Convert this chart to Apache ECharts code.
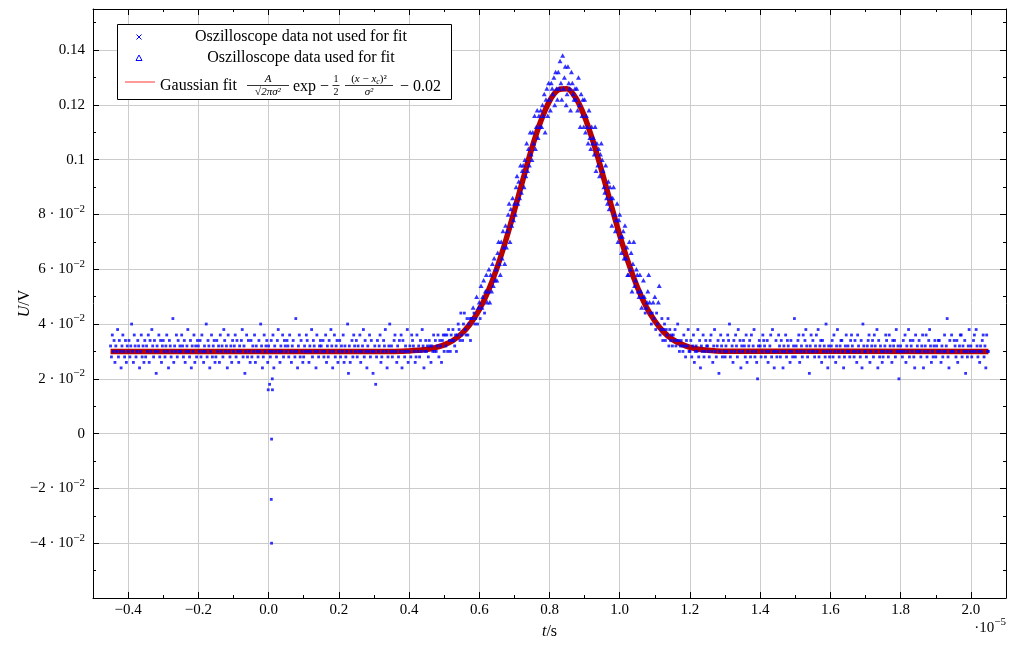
<!DOCTYPE html>
<html><head><meta charset="utf-8">
<script src="https://cdn.jsdelivr.net/npm/echarts@6/dist/echarts.min.js"></script>
<style>html,body{margin:0;padding:0;background:#fff}#c{width:1009px;height:645px}</style>
</head><body><div id="c"></div>
<script>
// ---- data (time in units of 1e-5 s, voltage in mV) ----
const sampleStart = -0.45;   // first oscilloscope sample
const sampleStep = 0.0025;   // sample spacing

const leftBaseMv = [
32,28,36,30,34,26,32,30,38,28,34,30,24,32,36,30,28,34,26,32,
30,34,28,32,40,30,26,36,32,28,30,34,32,24,30,36,28,32,26,34,
28,32,30,36,26,34,30,38,32,28,34,30,22,32,30,36,28,34,26,32,
34,30,28,32,36,30,24,34,32,28,30,42,26,32,30,36,28,34,30,32,
30,36,32,28,34,26,30,32,38,30,28,34,24,32,30,36,26,32,28,34,
32,30,34,28,36,30,26,32,30,40,28,34,32,24,30,36,28,32,34,26,
28,34,30,32,26,36,30,32,28,38,34,30,32,24,36,30,28,32,26,34,
30,32,36,28,34,30,26,32,30,34,38,28,32,22,30,36,28,34,30,26,
34,28,32,30,36,26,32,30,28,34,30,40,32,24,28,36,30,32,34,26,
32,30,28,34,30,36,24,32,30,28,34,38,30,26,32,30,36,28,34,32,
30,34,32,28,36,30,26,32,34,30,28,42,30,24,32,36,28,34,30,26,
28,32,30,36,34,30,26,32,30,38,28,34,32,30,24,36,30,28,32,34,
32,30,34,28,30,36,26,32,28,34,30,38,32,24,30,36,28,32,34,26,
30,34,28,32,30,36,26,32,28,30,40,22,32,26,30,34,28,36,32,30,
34,28,32,30,36,26,30,32,38,28,34,30,24,32,30,36,28,34,30,22,
30,32,18,28,34,30,32,36,26,28,30,34,32,38,30,24,28,32,40,30,
32,28,30,34,36,30,26,32,28,34,30,36,24,34,30,28,32,30,38,26,
30,32,28,36,34,32,30,26,28,36,30,32,28,34,30,38,32,24,30,34
];

const peakMv = [
30,32,28,34,32,26,32,30,36,30,
34,30,32,36,28,34,32,26,34,36,
30,36,32,36,30,38,34,30,36,34,
38,34,32,36,30,36,40,38,34,44,
36,34,40,44,38,36,42,36,40,42,
34,42,42,46,44,40,42,50,40,46,
48,42,54,46,50,56,44,52,58,48,
52,60,48,58,52,62,54,64,56,60,
56,66,70,62,58,70,64,74,68,62,
76,68,74,80,84,70,82,76,86,78,
84,80,90,94,84,92,86,98,88,96,
98,90,100,94,106,96,104,98,110,102,
100,110,106,116,104,112,118,108,116,112,
118,112,120,116,124,110,122,126,116,128,
122,118,128,126,124,130,120,132,126,122,
132,126,136,128,122,138,126,130,134,120,
124,134,128,126,118,132,128,124,122,126,
122,126,118,130,120,112,124,116,122,112,
122,110,116,112,106,118,108,104,112,106,
108,102,112,96,106,98,104,94,102,106,
100,96,90,88,98,86,84,92,82,90,
86,76,86,90,80,74,78,84,70,78,
80,72,66,72,74,64,76,64,68,58,
58,70,60,66,52,62,70,54,56,60,
58,52,50,58,52,46,50,56,50,44,
46,48,52,58,48,44,40,44,48,42,
50,38,44,40,48,54,36,38,42,34,
38,40,34,38,36,42,32,38,34,36,
32,36,34,38,32,34,40,34,30,32,
34,32,30,36,32,28,34,32,38,30
];

const rightBaseMv = [
30,34,28,32,36,26,30,32,30,38,28,34,24,32,30,36,28,30,34,32,
32,30,28,34,36,30,26,32,38,30,28,32,34,22,30,36,32,28,34,30,
28,32,30,36,34,40,28,30,32,26,34,30,36,32,28,38,30,34,24,32,
30,34,32,28,36,26,30,32,34,28,36,30,32,38,28,30,26,20,32,34,
32,28,30,36,34,32,28,30,34,26,30,32,36,28,38,30,24,30,34,28,
30,36,32,28,34,30,24,32,30,36,28,34,32,30,26,34,30,28,32,42,
28,32,30,34,36,26,30,32,28,36,30,34,38,32,28,30,22,32,36,30,
34,30,28,32,36,30,38,28,32,34,26,34,30,32,28,40,30,24,32,28,
30,32,34,28,36,30,26,32,38,30,28,32,34,34,30,24,28,32,36,30,
32,30,28,34,36,32,30,28,34,30,26,36,32,30,28,34,24,40,32,30,
30,28,32,34,36,26,30,32,34,28,36,32,30,38,24,34,28,32,30,26,
28,30,32,36,34,30,28,36,32,30,26,34,32,34,28,38,30,32,20,30,
32,30,28,34,30,36,26,32,30,38,28,34,32,30,34,28,24,36,30,32,
30,34,30,28,32,36,24,30,32,36,28,30,34,38,32,26,30,28,32,34,
28,32,30,34,34,30,26,32,28,30,36,30,32,42,28,24,34,30,36,30,
30,34,32,28,34,26,30,32,36,36,28,32,30,34,22,30,28,32,38,30,
32,28,30,34,36,30,38,32,28,30,26,32,30,34,36,28,32,24,36,30,
30
];

// trigger glitch near t = 0
const glitchT  = [-0.001, 0.003, 0.0105, 0.011, 0.0085, 0.0077, 0.0085];
const glitchMv = [16, 18, 20, 16, -2, -24, -40];

// fitted curve
const fitT  = [-0.45, 0.35, 0.40, 0.425, 0.45, 0.475, 0.50, 0.525, 0.55, 0.575, 0.60, 0.625, 0.65, 0.675, 0.70, 0.725, 0.75, 0.775, 0.80, 0.825, 0.85, 0.875, 0.90, 0.925, 0.95, 0.975, 1.00, 1.025, 1.05, 1.075, 1.10, 1.125, 1.15, 1.175, 1.20, 1.225, 1.25, 1.275, 1.30, 2.05];
const fitMv = [30.0, 30.0, 30.2, 30.4, 30.7, 31.4, 32.4, 34.0, 36.5, 40.2, 45.2, 51.9, 60.3, 70.3, 81.4, 93.0, 104.3, 114.0, 121.4, 125.5, 125.9, 122.5, 115.7, 106.3, 95.3, 83.7, 72.4, 62.2, 53.5, 46.4, 41.1, 37.1, 34.4, 32.7, 31.5, 30.8, 30.4, 30.2, 30.1, 30.0];

const usedForFitAboveMv = 45; // peak samples above this level are the ones used for the fit

// axis ticks and labels
const xMajorTicks = [-0.4, -0.2, 0, 0.2, 0.4, 0.6, 0.8, 1.0, 1.2, 1.4, 1.6, 1.8, 2.0];
const xTickLabels = ['−0.4', '−0.2', '0.0', '0.2', '0.4', '0.6', '0.8', '1.0', '1.2', '1.4', '1.6', '1.8', '2.0'];
const xMinorTicks = [-0.3, -0.1, 0.1, 0.3, 0.5, 0.7, 0.9, 1.1, 1.3, 1.5, 1.7, 1.9];
const yMajorTicks = [-0.04, -0.02, 0, 0.02, 0.04, 0.06, 0.08, 0.1, 0.12, 0.14];
const yTickLabels = ['−4 · 10^−2', '−2 · 10^−2', '0', '2 · 10^−2', '4 · 10^−2', '6 · 10^−2', '8 · 10^−2', '0.1', '0.12', '0.14'];
const yMinorTicks = [-0.05, -0.03, -0.01, 0.01, 0.03, 0.05, 0.07, 0.09, 0.11, 0.13, 0.15];

// ---- build series data ----
const notUsed = [], used = [];
const allMv = leftBaseMv.concat(peakMv, rightBaseMv);
const peakStart = leftBaseMv.length, peakEnd = leftBaseMv.length + peakMv.length;
allMv.forEach((mv, i) => {
  const p = [sampleStart + i * sampleStep, mv / 1000];
  if (i >= peakStart && i < peakEnd && mv > usedForFitAboveMv) used.push(p); else notUsed.push(p);
});
glitchT.forEach((t, i) => notUsed.push([t, glitchMv[i] / 1000]));
const fitData = fitT.map((t, i) => [t, fitMv[i] / 1000]);

const FONT = 'Liberation Serif';
function findLabel(v, ticks, labels) {
  for (let i = 0; i < ticks.length; i++) if (Math.abs(ticks[i] - v) < 1e-9) return labels[i];
  return '';
}
function richLabel(s) {
  if (!s) return '';
  const k = s.indexOf('^');
  return k < 0 ? '{b|' + s + '}' : '{b|' + s.slice(0, k) + '}{s|' + s.slice(k + 1) + '}';
}
const rich = {
  b: { fontFamily: FONT, fontSize: 15, color: '#000', lineHeight: 22 },
  s: { fontFamily: FONT, fontSize: 11, color: '#000', lineHeight: 11, verticalAlign: 'top' }
};
const nameStyle = { fontFamily: FONT, fontSize: 16, color: '#000', rich: { i: { fontFamily: FONT, fontSize: 16, fontStyle: 'italic', color: '#000' } } };

function xAx(pos, ticks, len, main) {
  const primary = pos === 'bottom' && main;
  return {
    type: 'value', min: -0.5, max: 2.1, position: pos,
    axisLine: { show: main, onZero: false, lineStyle: { color: '#000', width: 1 } },
    axisTick: { show: true, inside: true, length: len, customValues: ticks, lineStyle: { color: '#000', width: 1 } },
    axisLabel: primary ? {
      show: true, customValues: xMajorTicks, margin: 5, color: '#000', fontFamily: FONT, fontSize: 15,
      formatter: v => findLabel(v, xMajorTicks, xTickLabels)
    } : { show: false },
    splitLine: primary ? { show: true, lineStyle: { color: '#cccccc', width: 1 } } : { show: false },
    minorTick: { show: false }, minorSplitLine: { show: false },
    name: primary ? '{i|t}/s' : '', nameLocation: 'middle', nameGap: 26, nameMoveOverlap: false, nameTextStyle: nameStyle
  };
}
function yAx(pos, ticks, len, main) {
  const primary = pos === 'left' && main;
  return {
    type: 'value', min: -0.06, max: 0.155, position: pos,
    axisLine: { show: main, onZero: false, lineStyle: { color: '#000', width: 1 } },
    axisTick: { show: true, inside: true, length: len, customValues: ticks, lineStyle: { color: '#000', width: 1 } },
    axisLabel: primary ? {
      show: true, customValues: yMajorTicks, margin: 8, color: '#000',
      formatter: v => richLabel(findLabel(v, yMajorTicks, yTickLabels)), rich: rich
    } : { show: false },
    splitLine: primary ? { show: true, lineStyle: { color: '#cccccc', width: 1 } } : { show: false },
    minorTick: { show: false }, minorSplitLine: { show: false },
    name: primary ? '{i|U}/V' : '', nameLocation: 'middle', nameGap: 60, nameMoveOverlap: false, nameTextStyle: nameStyle
  };
}

const chart = echarts.init(document.getElementById('c'), null, { renderer: 'canvas' });
const blue = '#0000ff';
const txt = (x, y, text, size, extra) => Object.assign({ type: 'text', x: x, y: y, z: 11,
  style: Object.assign({ text: text, fontFamily: FONT, fontSize: size, fill: '#000', align: 'center', verticalAlign: 'middle' }, extra || {}) });
const ln = (x1, y1, x2, y2, color, w) => ({ type: 'line', z: 11, shape: { x1: x1, y1: y1, x2: x2, y2: y2 }, style: { stroke: color, lineWidth: w } });

chart.setOption({
  animation: false,
  backgroundColor: '#fff',
  grid: { left: 93, right: 3, top: 9, bottom: 47, containLabel: false, outerBoundsMode: 'none' },
  xAxis: [xAx('bottom', xMajorTicks, 6, true), xAx('bottom', xMinorTicks, 3, false), xAx('top', xMajorTicks, 6, true), xAx('top', xMinorTicks, 3, false)],
  yAxis: [yAx('left', yMajorTicks, 6, true), yAx('left', yMinorTicks, 3, false), yAx('right', yMajorTicks, 6, true), yAx('right', yMinorTicks, 3, false)],
  series: [
    { name: 'fit', type: 'line', xAxisIndex: 0, yAxisIndex: 0, data: fitData, showSymbol: false, smooth: 0.3,
      lineStyle: { color: '#bb0000', width: 5.5 }, z: 2, silent: true },
    { name: 'notUsed', type: 'scatter', xAxisIndex: 0, yAxisIndex: 0, data: notUsed, symbol: 'rect', symbolSize: 2.8,
      itemStyle: { color: blue }, z: 3, silent: true },
    { name: 'used', type: 'scatter', xAxisIndex: 0, yAxisIndex: 0, data: used, symbol: 'triangle', symbolSize: [5, 4.5],
      itemStyle: { color: blue }, z: 3, silent: true }
  ],
  graphic: [
    { type: 'text', x: 1006, y: 628, style: { text: '{b|·10}{s|−5}', rich: rich, align: 'right', verticalAlign: 'middle' } },
    { type: 'rect', z: 10, shape: { x: 117.5, y: 24.5, width: 334, height: 75 }, style: { fill: '#fff', stroke: '#000', lineWidth: 1 } },
    ln(136.5, 34.5, 141.5, 39.5, blue, 1),
    ln(141.5, 34.5, 136.5, 39.5, blue, 1),
    txt(301, 37, 'Oszilloscope data not used for fit', 16),
    { type: 'polygon', z: 11, shape: { points: [[136, 60.5], [142, 60.5], [139, 55]] }, style: { fill: 'none', stroke: blue, lineWidth: 1 } },
    txt(301, 58, 'Oszilloscope data used for fit', 16),
    ln(125, 82, 155, 82, '#ff9a9a', 2),
    txt(160, 86, 'Gaussian fit', 16, { align: 'left' }),
    txt(268, 79.5, 'A', 11, { fontStyle: 'italic' }),
    ln(247, 85.5, 289, 85.5, '#000', 0.8),
    txt(268, 92.5, '√2πσ²', 11, { fontStyle: 'italic' }),
    txt(293, 87, 'exp −', 16, { align: 'left' }),
    txt(336, 79.5, '1', 10),
    ln(332.5, 85.5, 339.5, 85.5, '#000', 0.8),
    txt(336, 92, '2', 10),
    { type: 'text', x: 369, y: 79, z: 11, style: { text: '{n|(}{i|x}{n| − }{i|x}{c|c}{n|)²}', align: 'center', verticalAlign: 'middle',
        rich: { n: { fontFamily: FONT, fontSize: 11, color: '#000', lineHeight: 14 }, i: { fontFamily: FONT, fontSize: 11, fontStyle: 'italic', color: '#000', lineHeight: 14 },
                c: { fontFamily: FONT, fontSize: 8, fontStyle: 'italic', color: '#000', verticalAlign: 'bottom', lineHeight: 8 } } } },
    ln(345, 85.5, 393, 85.5, '#000', 0.8),
    txt(369, 92.5, 'σ²', 11, { fontStyle: 'italic' }),
    txt(400, 87, '− 0.02', 16, { align: 'left' })
  ]
});
</script>
</body></html>
